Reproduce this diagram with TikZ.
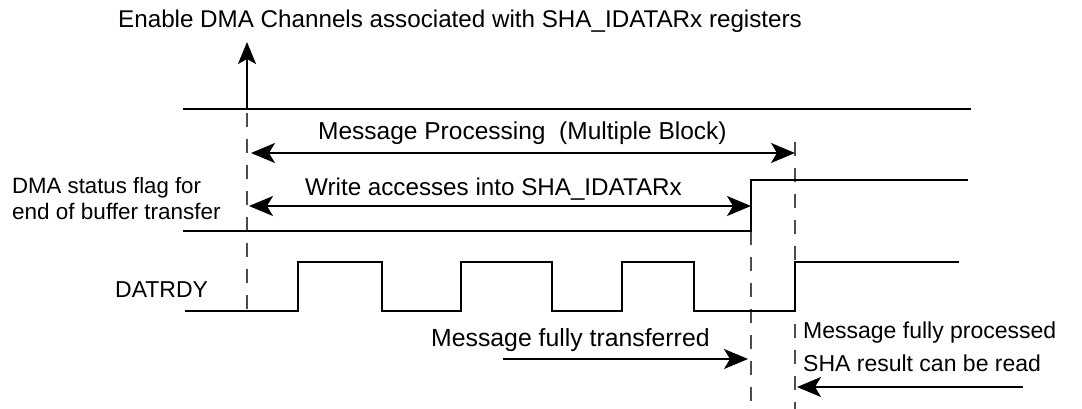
\documentclass[tikz,border=0pt]{standalone}
\usepackage{fontspec}
\setmainfont{Liberation Sans}
\usetikzlibrary{arrows.meta}
\begin{document}
\begin{tikzpicture}[x=1pt,y=-1pt,
  sig/.style={line width=1.8pt},
  guide/.style={line width=1.1pt, dash pattern=on 14pt off 12pt, black!70},
  span/.style={line width=1.8pt, {Stealth[length=24pt,width=20pt,inset=6pt]}-{Stealth[length=24pt,width=20pt,inset=6pt]}},
  point/.style={line width=1.8pt, -{Stealth[length=24pt,width=20pt,inset=6pt]}},
  lbl/.style={font=\fontsize{#1}{27}\selectfont, inner sep=0pt, anchor=west},
  lbl/.default=23]
  \useasboundingbox (0,0) rectangle (1082,409);
  \def\xL{183} \def\xS{247} \def\xW{751} \def\xP{795}
  \def\yA{109} \def\yBh{180} \def\yBl{231} \def\yCh{262} \def\yCl{311}
  % guides
  \draw[guide] (\xS,113) -- (\xS,\yCl);
  \draw[guide] (\xW,\yBl) -- (\xW,409);
  \draw[guide] (\xP,142) -- (\xP,409);
  % signals
  \draw[sig] (\xL,\yA) -- (971,\yA);
  \draw[sig] (\xL,\yBl) -- (\xW,\yBl) -- (\xW,\yBh) -- (968,\yBh);
  \draw[sig] (185,\yCl) -- (298,\yCl) -- (298,\yCh) -- (382,\yCh) -- (382,\yCl)
    -- (461,\yCl) -- (461,\yCh) -- (552,\yCh) -- (552,\yCl) -- (622,\yCl)
    -- (622,\yCh) -- (694,\yCh) -- (694,\yCl) -- (\xP,\yCl) -- (\xP,\yCh)
    -- (959,\yCh);
  % arrow ends
  \coordinate (enBase) at (\xS,\yA);
  \coordinate (enTip) at (\xS,42);
  \coordinate (mpL) at (251,153);
  \coordinate (mpR) at (\xP,153);
  \coordinate (waL) at (249,206);
  \coordinate (waR) at (\xW,206);
  \coordinate (mtFrom) at (503,359);
  \coordinate (mtTo) at (748,359);
  \coordinate (mrFrom) at (1023,387);
  \coordinate (mrTo) at (797,387);
  \draw[line width=1.8pt, -{Stealth[length=22pt,width=18pt,inset=5pt]}] (enBase) -- (enTip);
  \draw[span] (mpL) -- (mpR);
  \draw[span] (waL) -- (waR);
  \draw[point] (mtFrom) -- (mtTo);
  \draw[point] (mrFrom) -- (mrTo);
  % labels
  \node[lbl=24.2] (enable) at (118,21) {Enable DMA Channels associated with SHA\_IDATARx registers};
  \node[lbl=24.5] (proc) at (318,133) {Message Processing\ \ (Multiple Block)};
  \node[lbl=24.2] (write) at (305,189) {Write accesses into SHA\_IDATARx};
  \node[lbl=22.2] (flagA) at (12,188) {DMA status flag for};
  \node[lbl=22.5] (flagB) at (12,211) {end of buffer transfer};
  \node[lbl] (datrdy) at (115,290) {DATRDY};
  \node[lbl=24.8] (xfer) at (431,340) {Message fully transferred};
  \node[lbl] (doneA) at (803,333) {Message fully processed};
  \node[lbl] (doneB) at (803,363) {SHA result can be read};
\end{tikzpicture}
\end{document}
